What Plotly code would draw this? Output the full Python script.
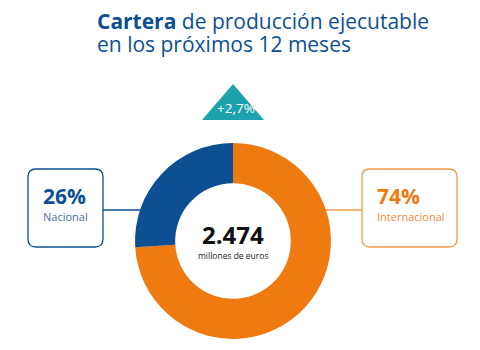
import plotly.graph_objects as go

W, H = 480, 350
labels = ["Internacional", "Nacional"]
values = [74, 26]
colors = ["#ef7a10", "#0d4f93"]
total_label = "2.474"
unit_label = "millones de euros"
growth_label = "+2,7%"

def px(x):
    return x / W

def py(y):
    return 1 - y / H

fig = go.Figure()
cx, cy, r = 233, 241, 98
fig.add_trace(go.Pie(
    values=values, labels=labels, sort=False, direction="clockwise", rotation=0,
    hole=0.59, marker=dict(colors=colors, line=dict(width=0)),
    textinfo="none", hoverinfo="label+percent", showlegend=False,
    domain=dict(x=[px(cx - r), px(cx + r)], y=[py(cy + r), py(cy - r)]),
))

def rrect(x0, y0, x1, y1, rad):
    rx, ry = rad / W, rad / H
    X0, X1 = px(x0), px(x1)
    Y0, Y1 = py(y0), py(y1)  # Y0 top, Y1 bottom
    return (f"M {X0+rx},{Y0} L {X1-rx},{Y0} Q {X1},{Y0} {X1},{Y0-ry} "
            f"L {X1},{Y1+ry} Q {X1},{Y1} {X1-rx},{Y1} L {X0+rx},{Y1} "
            f"Q {X0},{Y1} {X0},{Y1+ry} L {X0},{Y0-ry} Q {X0},{Y0} {X0+rx},{Y0} Z")

shapes = []
# left box
shapes.append(dict(type="path", xref="paper", yref="paper", path=rrect(28, 169, 103, 247, 8),
                   line=dict(color=colors[1], width=1.3), fillcolor="white", layer="below"))
shapes.append(dict(type="line", xref="paper", yref="paper", x0=px(103), x1=px(142), y0=py(210), y1=py(210),
                   line=dict(color=colors[1], width=1.3), layer="below"))
# right box
shapes.append(dict(type="path", xref="paper", yref="paper", path=rrect(362, 169, 457, 247, 8),
                   line=dict(color="#f29a4a", width=1.3), fillcolor="white", layer="below"))
shapes.append(dict(type="line", xref="paper", yref="paper", x0=px(325), x1=px(362), y0=py(210), y1=py(210),
                   line=dict(color="#f29a4a", width=1.3), layer="below"))
# triangle
shapes.append(dict(type="path", xref="paper", yref="paper",
                   path=f"M {px(202)},{py(120)} L {px(264)},{py(120)} L {px(233)},{py(84)} Z",
                   line=dict(width=0), fillcolor="#1ba2ac"))

F = "Open Sans"
ann = []
ann.append(dict(x=px(95), y=py(21), xanchor="left", yanchor="middle",
                text="<b>Cartera</b> de producción ejecutable", font=dict(family=F, size=21, color="#0d4f93")))
ann.append(dict(x=px(95), y=py(44), xanchor="left", yanchor="middle",
                text="en los próximos 12 meses", font=dict(family=F, size=21, color="#0d4f93")))
ann.append(dict(x=px(236), y=py(108), xanchor="center", yanchor="middle",
                text=growth_label, font=dict(family=F, size=13.5, color="white")))
ann.append(dict(x=px(41), y=py(196), xanchor="left", yanchor="middle",
                text=f"<b>{values[1]}%</b>", font=dict(family=F, size=21, color="#0d4f93")))
ann.append(dict(x=px(41), y=py(216), xanchor="left", yanchor="middle",
                text=labels[1], font=dict(family=F, size=11, color="#4a6e96")))
ann.append(dict(x=px(375), y=py(196), xanchor="left", yanchor="middle",
                text=f"<b>{values[0]}%</b>", font=dict(family=F, size=21, color="#ef7a10")))
ann.append(dict(x=px(375), y=py(216), xanchor="left", yanchor="middle",
                text=labels[0], font=dict(family=F, size=11, color="#f08a3a")))
ann.append(dict(x=px(233), y=py(235), xanchor="center", yanchor="middle",
                text=f"<b>{total_label}</b>", font=dict(family=F, size=24, color="#111111")))
ann.append(dict(x=px(233), y=py(255), xanchor="center", yanchor="middle",
                text=unit_label, font=dict(family=F, size=8.5, color="#222222")))
for a in ann:
    a["showarrow"] = False
    a["xref"] = "paper"
    a["yref"] = "paper"

fig.update_layout(width=W, height=H, margin=dict(l=0, r=0, t=0, b=0),
                  paper_bgcolor="white", plot_bgcolor="white",
                  shapes=shapes, annotations=ann)
fig.write_html("out.html")
